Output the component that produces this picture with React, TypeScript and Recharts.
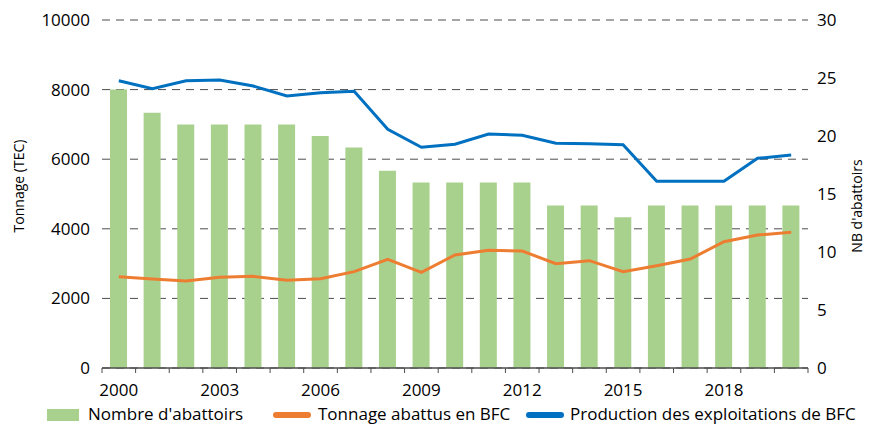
import React from "react";
import {
  Bar,
  CartesianGrid,
  ComposedChart,
  Legend,
  Line,
  XAxis,
  YAxis,
} from "recharts";

const years = [
  2000, 2001, 2002, 2003, 2004, 2005, 2006, 2007, 2008, 2009, 2010,
  2011, 2012, 2013, 2014, 2015, 2016, 2017, 2018, 2019, 2020,
];
const abattoirs = [24, 22, 21, 21, 21, 21, 20, 19, 17, 16, 16, 16, 16, 14, 14, 13, 14, 14, 14, 14, 14];
const tonnage = [
  2625, 2557, 2500, 2605, 2634, 2519, 2567, 2768, 3123, 2749, 3247,
  3381, 3362, 2998, 3084, 2768, 2941, 3132, 3630, 3822, 3898,
];
const production = [
  8256, 8026, 8256, 8276, 8103, 7816, 7912, 7950, 6858, 6341, 6428,
  6724, 6686, 6456, 6447, 6418, 5364, 5364, 5364, 6025, 6120,
];
const leftTicks = [0, 2000, 4000, 6000, 8000, 10000];
const rightTicks = [0, 5, 10, 15, 20, 25, 30];

const series = [
  { key: "abattoirs", name: "Nombre d'abattoirs", color: "#A9D18E" },
  { key: "tonnage", name: "Tonnage abattus en BFC", color: "#ED7D31" },
  { key: "production", name: "Production des exploitations de BFC", color: "#0070C0" },
];

const data = years.map((year, i) => ({
  year,
  abattoirs: abattoirs[i],
  tonnage: tonnage[i],
  production: production[i],
}));

const W = 875;
const H = 428;
const LEFT_W = 102;
const RIGHT_W = 67;
const FONT = "'Open Sans', sans-serif";
const TEXT = "#000";
const AXIS = "#4d4d4d";

// x ticks: marks sit on category edges, labels every 3 years
const BAND = (W - LEFT_W - RIGHT_W) / years.length;

const YearTick = ({ x, y, payload, index }: any) => {
  const top = y - 8;
  return (
    <g>
      <line x1={x - BAND / 2} x2={x - BAND / 2} y1={top} y2={top + 5} stroke={AXIS} strokeWidth={1} />
      {index === years.length - 1 && (
        <line x1={x + BAND / 2} x2={x + BAND / 2} y1={top} y2={top + 5} stroke={AXIS} strokeWidth={1} />
      )}
      {index % 3 === 0 && (
        <text x={x} y={y + 20} textAnchor="middle" fontSize={17} fontFamily={FONT} fill={TEXT}>
          {payload.value}
        </text>
      )}
    </g>
  );
};

const LegendContent = () => {
  const lefts = [47, 273, 526];
  const textLefts = [88, 318, 570];
  return (
    <div style={{ position: "relative", height: 22, fontFamily: FONT, fontSize: 17, color: TEXT }}>
      {series.map((s, i) => (
        <React.Fragment key={s.key}>
          {i === 0 ? (
            <div style={{ position: "absolute", left: lefts[i], top: 5, width: 32, height: 12, background: s.color }} />
          ) : (
            <div style={{ position: "absolute", left: lefts[i], top: 8, width: 38, height: 6, borderRadius: 3, background: s.color }} />
          )}
          <div style={{ position: "absolute", left: textLefts[i], top: -1, whiteSpace: "nowrap", lineHeight: "22px" }}>
            {s.name}
          </div>
        </React.Fragment>
      ))}
    </div>
  );
};

const LeftTitle = () => {
  const cy = 186;
  return (
    <text x={18} y={cy} transform={`rotate(-90, 18, ${cy})`} textAnchor="middle" dominantBaseline="central" fontSize={14} fontFamily={FONT} fill={TEXT}>
      Tonnage (TEC)
    </text>
  );
};

const RightTitle = () => {
  const cy = 206;
  return (
    <text x={856} y={cy} transform={`rotate(-90, 856, ${cy})`} textAnchor="middle" dominantBaseline="central" fontSize={14} fontFamily={FONT} fill={TEXT}>
      NB d'abattoirs
    </text>
  );
};

export default function App() {
  return (
    <div style={{ position: "absolute", left: 0, top: 0, width: W, height: H, background: "#fff" }}>
      <ComposedChart width={W} height={H} data={data} margin={{ top: 20, right: 0, bottom: 2, left: 0 }}>
        <CartesianGrid vertical={false} stroke={AXIS} strokeDasharray="8 6" />
        <XAxis
          dataKey="year"
          interval={0}
          height={36}
          tick={<YearTick />}
          tickLine={false}
          axisLine={{ stroke: AXIS, strokeWidth: 1.3 }}
        />
        <YAxis
          domain={[0, 10000]}
          ticks={leftTicks}
          width={LEFT_W}
          axisLine={false}
          tickLine={false}
          tickMargin={6}
          tick={{ fontSize: 17, fontFamily: FONT, fill: TEXT }}
          label={<LeftTitle />}
        />
        <YAxis
          yAxisId="right"
          orientation="right"
          domain={[0, 30]}
          ticks={rightTicks}
          width={RIGHT_W}
          axisLine={false}
          tickLine={false}
          tickMargin={3}
          tick={{ fontSize: 17, fontFamily: FONT, fill: TEXT, textAnchor: "start" }}
          label={<RightTitle />}
        />
        <Legend
          verticalAlign="bottom"
          content={<LegendContent />}
          wrapperStyle={{ left: 0, bottom: 2, width: W, height: 22 }}
        />
        <Bar dataKey="abattoirs" name={series[0].name} yAxisId="right" fill={series[0].color} barSize={17} isAnimationActive={false} />
        <Line dataKey="tonnage" name={series[1].name} stroke={series[1].color} strokeWidth={3} dot={false} type="linear" isAnimationActive={false} />
        <Line dataKey="production" name={series[2].name} stroke={series[2].color} strokeWidth={3} dot={false} type="linear" isAnimationActive={false} />
      </ComposedChart>
    </div>
  );
}
